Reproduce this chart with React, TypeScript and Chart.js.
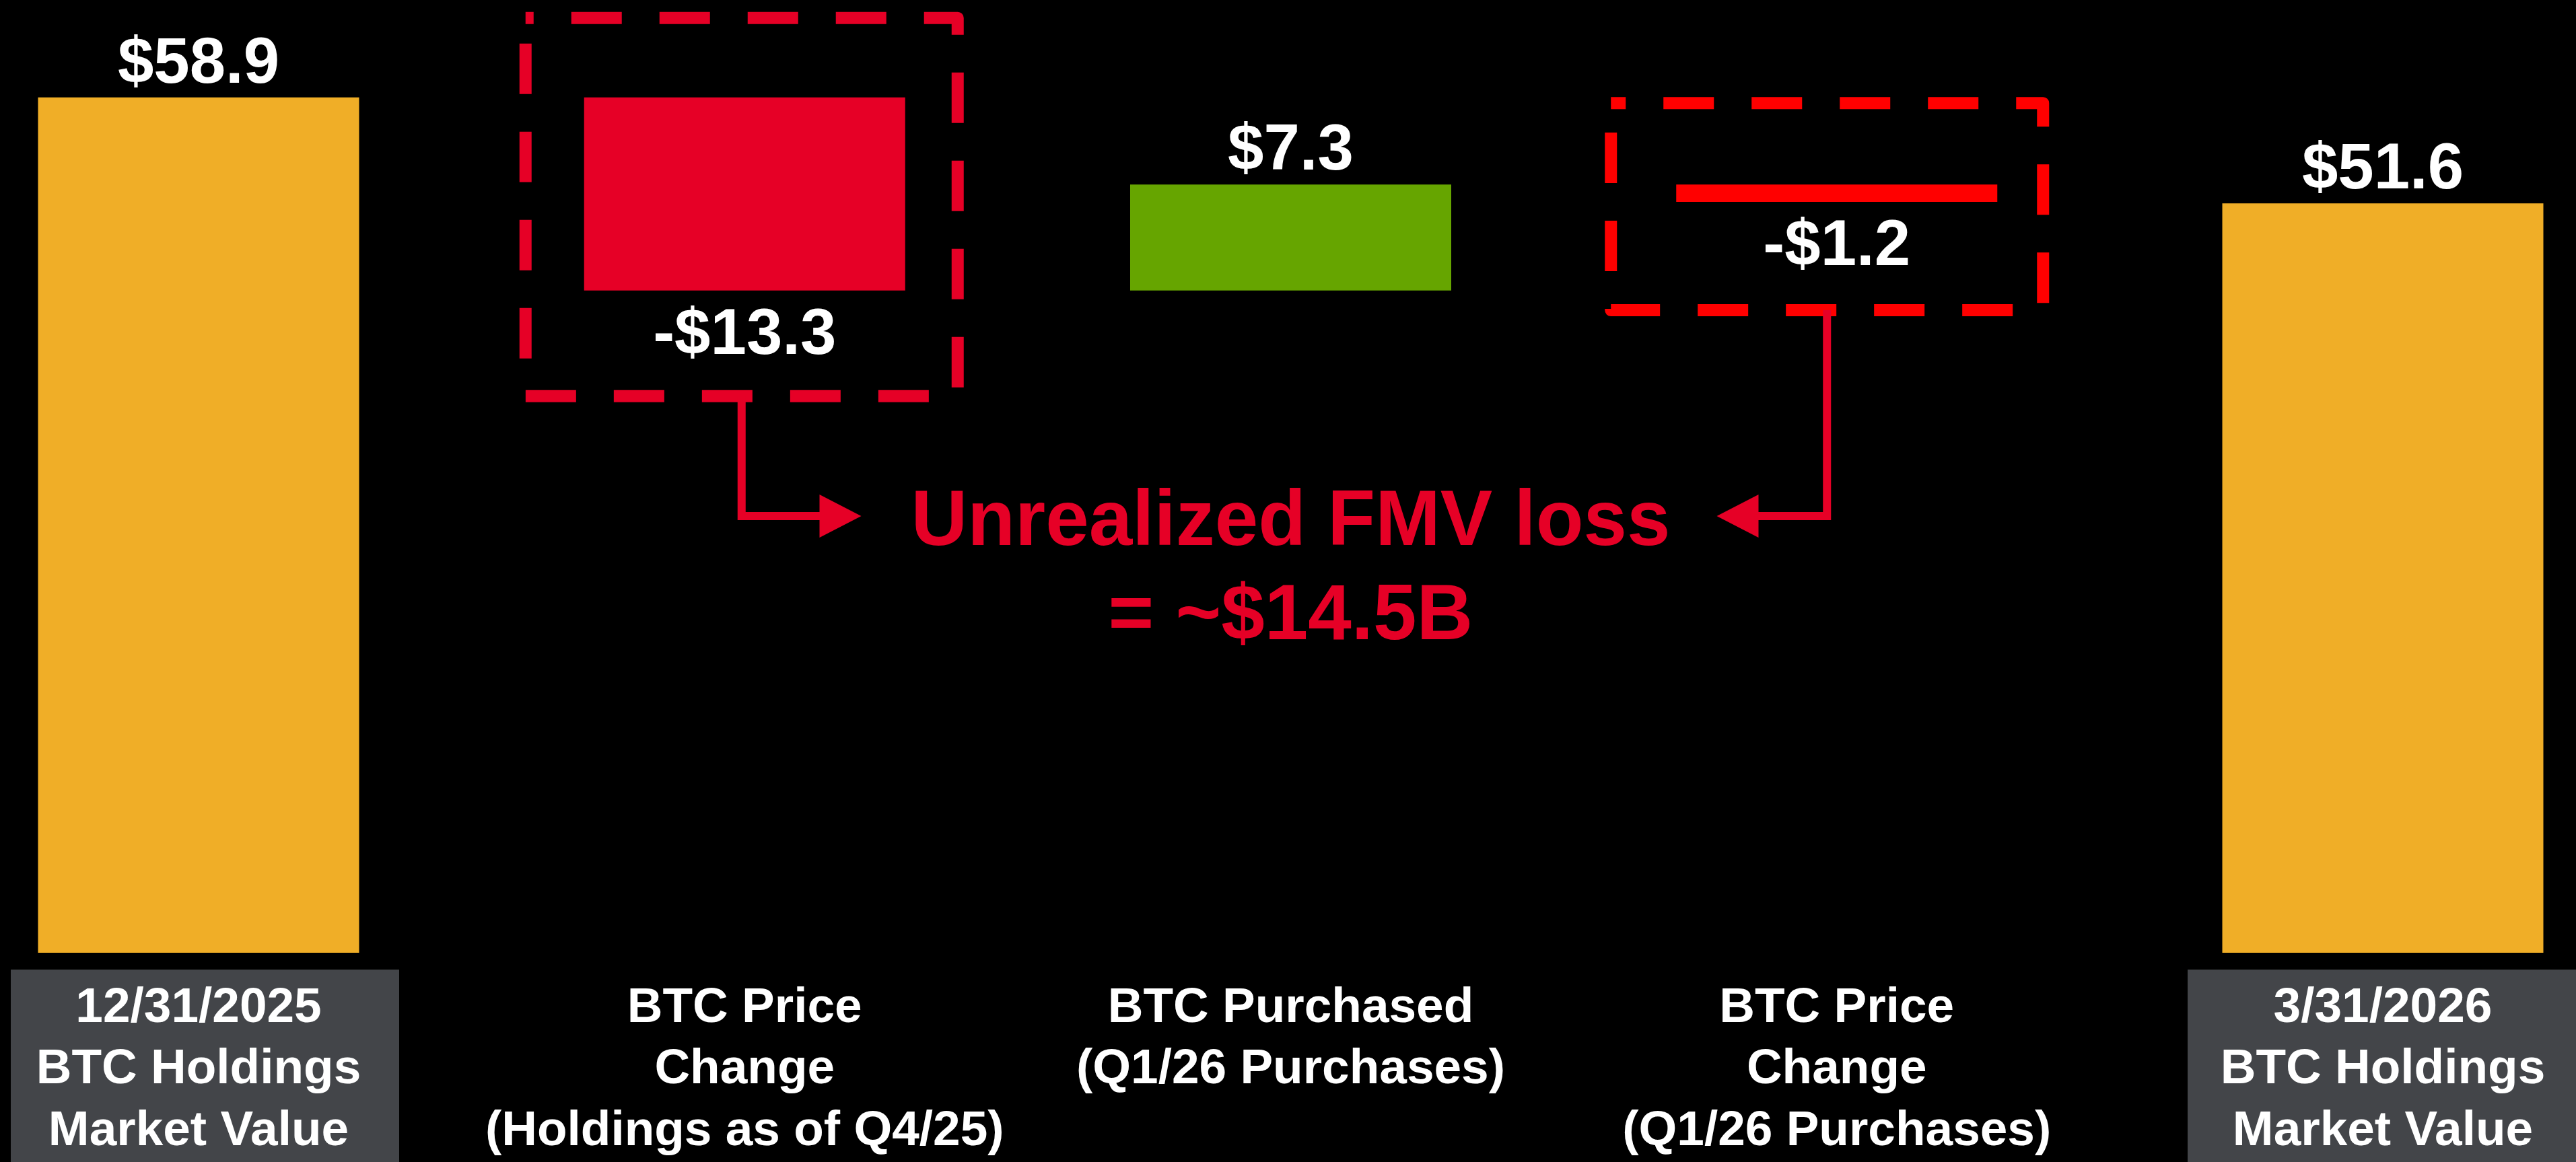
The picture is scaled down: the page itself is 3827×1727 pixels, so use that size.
import React, { useEffect, useRef } from 'react';
import { Chart, registerables } from 'chart.js';

Chart.register(...registerables);

// ---------------- data ----------------
const categories: string[][] = [
  ['12/31/2025', 'BTC Holdings', 'Market Value'],
  ['BTC Price', 'Change', '(Holdings as of Q4/25)'],
  ['BTC Purchased', '(Q1/26 Purchases)'],
  ['BTC Price', 'Change', '(Q1/26 Purchases)'],
  ['3/31/2026', 'BTC Holdings', 'Market Value'],
];
const startValue = 58.9;
const changeValues = [-13.3, 7.3, -1.2];
const endValue = 51.6;
const barColors = ['#F0AE27', '#E60026', '#66A500', '#FF0000', '#F0AE27'];
const highlightedLabels = [0, 4];
const lossBoxIndexes = [1, 3];
const lossBoxColors = ['#E60026', '#FF0000'];
const annotationLines = ['Unrealized FMV loss', '= ~$14.5B'];

// build waterfall ranges from the values above
const floatingBars: [number, number][] = [];
const labelValues: number[] = [];
floatingBars.push([0, startValue]);
labelValues.push(startValue);
let running = startValue;
for (const c of changeValues) {
  const next = Math.round((running + c) * 10) / 10;
  floatingBars.push([Math.min(running, next), Math.max(running, next)]);
  labelValues.push(c);
  running = next;
}
floatingBars.push([0, endValue]);
labelValues.push(endValue);

const FONT = '"Liberation Sans", Arial, Helvetica, sans-serif';
const CRIMSON = '#E60026';

const fmt = (v: number) => (v < 0 ? `-$${Math.abs(v).toFixed(1)}` : `$${v.toFixed(1)}`);

const overlayPlugin = {
  id: 'overlay',
  beforeDraw(chart: any) {
    const ctx = chart.ctx;
    ctx.save();
    ctx.fillStyle = '#000000';
    ctx.fillRect(0, 0, chart.width, chart.height);
    const xs = chart.scales.x;
    ctx.fillStyle = '#434549';
    for (const i of highlightedLabels) {
      const px = xs.getPixelForTick(i);
      const shift = i === 0 ? 9 : -2;
      ctx.fillRect(px + shift - 288, xs.top + 25, 577, chart.height - xs.top - 25);
    }
    ctx.restore();
  },
  afterDatasetsDraw(chart: any) {
    const ctx = chart.ctx;
    const meta = chart.getDatasetMeta(0);
    ctx.save();
    // value labels
    ctx.fillStyle = '#FFFFFF';
    ctx.font = `bold 96px ${FONT}`;
    ctx.textAlign = 'center';
    ctx.textBaseline = 'alphabetic';
    meta.data.forEach((el: any, i: number) => {
      const top = Math.min(el.y, el.base);
      const bottom = Math.max(el.y, el.base);
      const v = labelValues[i];
      if (v >= 0) ctx.fillText(fmt(v), el.x, top - 22);
      else ctx.fillText(fmt(v), el.x, bottom + 94);
    });

    // dashed boxes
    const pads = [
      { l: 87, r: 78, t: 118, b: 157, off: 63 },
      { l: 97, r: 68, t: 121, b: 161, off: 53 },
    ];
    const boxCenters: { cx: number; bottom: number }[] = [];
    lossBoxIndexes.forEach((idx, k) => {
      const el: any = meta.data[idx];
      const top = Math.min(el.y, el.base);
      const bottom = Math.max(el.y, el.base);
      const p = pads[k];
      const L = el.x - el.width / 2 - p.l;
      const R = el.x + el.width / 2 + p.r;
      const T = top - p.t;
      const B = bottom + p.b;
      ctx.strokeStyle = lossBoxColors[k];
      ctx.lineWidth = 18;
      ctx.lineJoin = 'round';
      ctx.lineCap = 'butt';
      ctx.setLineDash([75, 56]);
      ctx.lineDashOffset = p.off;
      ctx.beginPath();
      ctx.moveTo(L, T);
      ctx.lineTo(R, T);
      ctx.lineTo(R, B);
      ctx.lineTo(L, B);
      ctx.closePath();
      ctx.stroke();
      boxCenters.push({ cx: (L + R) / 2, bottom: B });
    });
    ctx.setLineDash([]);

    // annotation text
    const green: any = meta.data[2];
    const cx = green.x;
    const base1 = 810;
    const base2 = 950;
    ctx.fillStyle = CRIMSON;
    ctx.font = `bold 116px ${FONT}`;
    ctx.textAlign = 'center';
    ctx.fillText(annotationLines[0], cx, base1);
    ctx.fillText(annotationLines[1], cx, base2);
    const w = ctx.measureText(annotationLines[0]).width;
    const textL = cx - w / 2;
    const textR = cx + w / 2;
    const lineY = base1 - 43;

    // connectors with arrows
    const drawConnector = (bx: number, by: number, tipX: number, dir: number) => {
      const headLen = 62;
      const baseX = tipX - dir * headLen;
      ctx.strokeStyle = CRIMSON;
      ctx.fillStyle = CRIMSON;
      ctx.lineWidth = 12;
      ctx.lineJoin = 'miter';
      ctx.lineCap = 'butt';
      ctx.beginPath();
      ctx.moveTo(bx, by);
      ctx.lineTo(bx, lineY);
      ctx.lineTo(baseX + dir * 2, lineY);
      ctx.stroke();
      ctx.beginPath();
      ctx.moveTo(tipX, lineY);
      ctx.lineTo(baseX, lineY - 32);
      ctx.lineTo(baseX, lineY + 32);
      ctx.closePath();
      ctx.fill();
    };
    if (boxCenters[0]) drawConnector(boxCenters[0].cx, boxCenters[0].bottom, textL - 74, 1);
    if (boxCenters[1]) drawConnector(boxCenters[1].cx, boxCenters[1].bottom, textR + 69, -1);
    ctx.restore();
  },
};

export default function App() {
  const ref = useRef<HTMLCanvasElement | null>(null);
  useEffect(() => {
    document.body.style.margin = '0';
    document.body.style.background = '#000';
    const canvas = ref.current;
    if (!canvas) return;
    const chart = new Chart(canvas, {
      type: 'bar',
      data: {
        labels: categories,
        datasets: [
          {
            data: floatingBars as any,
            backgroundColor: barColors,
            borderWidth: 0,
            barPercentage: 0.588,
            categoryPercentage: 1,
            clip: false as any,
          },
        ],
      },
      options: {
        responsive: false,
        animation: false,
        devicePixelRatio: 1,
        layout: { padding: { left: 295, right: 287, top: 13, bottom: 0 } },
        plugins: { legend: { display: false }, tooltip: { enabled: false } },
        scales: {
          x: {
            offset: false,
            grid: { display: false, drawTicks: false },
            border: { display: false },
            ticks: {
              color: '#FFFFFF',
              font: { family: FONT, size: 73, weight: 'bold', lineHeight: '91.5px' as any },
              padding: 37,
              maxRotation: 0,
              minRotation: 0,
              autoSkip: false,
            },
            afterFit: (scale: any) => {
              scale.height = 311;
            },
          },
          y: {
            display: false,
            min: 0,
            max: 65,
          },
        },
      },
      plugins: [overlayPlugin],
    });
    return () => chart.destroy();
  }, []);
  return (
    <div style={{ width: 3827, height: 1727, background: '#000' }}>
      <canvas ref={ref} width={3827} height={1727} style={{ display: 'block' }} />
    </div>
  );
}
